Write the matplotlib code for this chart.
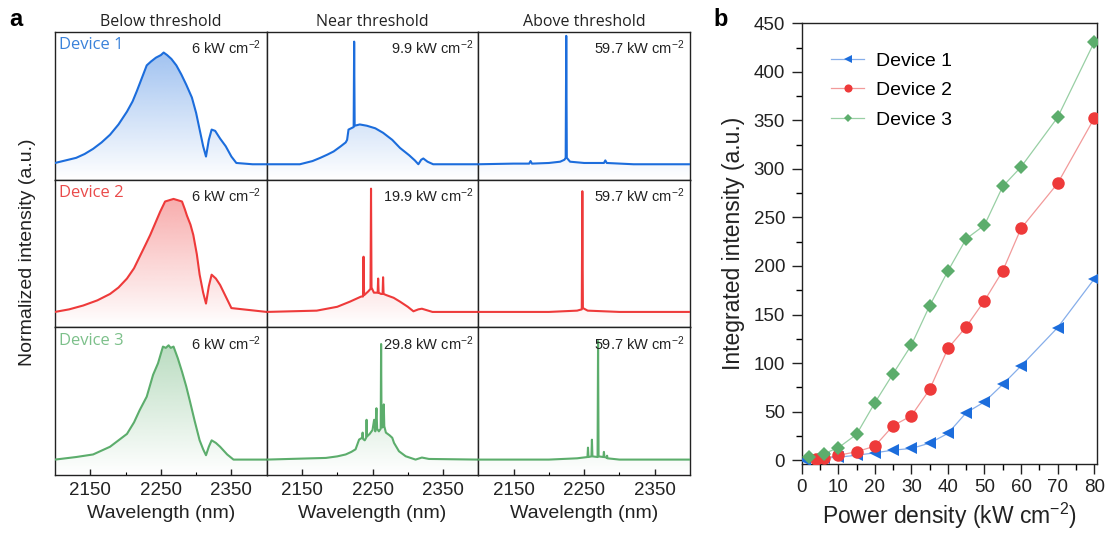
import numpy as np
import matplotlib
matplotlib.use("Agg")
import matplotlib.pyplot as plt
from matplotlib.colors import to_rgb
from matplotlib.patches import PathPatch

plt.rcParams['font.family'] = ['Liberation Sans', 'DejaVu Sans']
plt.rcParams['mathtext.fontset'] = 'custom'
plt.rcParams['mathtext.rm'] = 'Liberation Sans'
plt.rcParams['mathtext.it'] = 'Liberation Sans:italic'
plt.rcParams['mathtext.bf'] = 'Liberation Sans:bold'

# ---------------- Panel a data (wavelength nm, normalized intensity) ----------------
columns = ["Below threshold", "Near threshold", "Above threshold"]
devices = ["Device 1", "Device 2", "Device 3"]
power_labels = [["6", "9.9", "59.7"],
                ["6", "19.9", "59.7"],
                ["6", "29.8", "59.7"]]

wl_d1_below = [2100, 2115, 2130, 2142, 2154, 2166, 2178, 2190, 2202, 2210, 2216, 2223, 2230, 2236, 2243, 2250, 2254, 2259, 2265, 2272, 2279, 2286, 2294, 2300, 2305, 2310, 2314, 2318, 2322, 2327, 2334, 2342, 2350, 2357, 2380, 2400]
in_d1_below = [0.01, 0.03, 0.05, 0.08, 0.12, 0.17, 0.23, 0.31, 0.41, 0.49, 0.57, 0.67, 0.77, 0.80, 0.83, 0.85, 0.87, 0.85, 0.82, 0.77, 0.70, 0.62, 0.52, 0.40, 0.27, 0.14, 0.06, 0.19, 0.27, 0.26, 0.20, 0.14, 0.06, 0.01, 0.0, 0.0]

wl_d1_near = [2100, 2147, 2165, 2176, 2186, 2195, 2205, 2212, 2214, 2216, 2223.3, 2224, 2224.7, 2232, 2242, 2254, 2265, 2278, 2289, 2302, 2310, 2315, 2319, 2322, 2328, 2336, 2400]
in_d1_near = [0.0, 0.0, 0.025, 0.05, 0.075, 0.10, 0.14, 0.17, 0.19, 0.27, 0.29, 0.955, 0.30, 0.31, 0.30, 0.28, 0.245, 0.19, 0.127, 0.07, 0.03, 0.0, 0.035, 0.045, 0.02, 0.0, 0.0]

wl_d1_above = [2100, 2150, 2172, 2174, 2176, 2200, 2216, 2222, 2223.8, 2224.6, 2225.4, 2230, 2250, 2278, 2280, 2282, 2320, 2400]
in_d1_above = [0.0, 0.005, 0.005, 0.025, 0.005, 0.01, 0.02, 0.035, 0.05, 1.0, 0.05, 0.02, 0.01, 0.01, 0.03, 0.01, 0.0, 0.0]

wl_d2_below = [2100, 2120, 2140, 2160, 2178, 2190, 2202, 2212, 2220, 2228, 2235, 2242, 2249, 2256, 2262, 2268, 2274, 2280, 2284, 2287, 2292, 2296, 2301, 2305, 2310, 2314, 2318, 2322, 2328, 2334, 2342, 2350, 2400]
in_d2_below = [0.0, 0.02, 0.05, 0.09, 0.14, 0.19, 0.26, 0.34, 0.43, 0.52, 0.60, 0.69, 0.78, 0.86, 0.87, 0.88, 0.87, 0.86, 0.80, 0.75, 0.68, 0.60, 0.45, 0.29, 0.15, 0.065, 0.20, 0.29, 0.26, 0.21, 0.12, 0.03, 0.0]

wl_d2_near = [2100, 2171, 2200, 2218, 2234, 2236.5, 2237.3, 2238.1, 2244, 2247.2, 2247.9, 2248.6, 2252, 2257.3, 2258, 2258.7, 2262, 2264.3, 2265, 2265.7, 2270, 2280, 2289, 2300, 2308, 2315, 2320, 2335, 2400]
in_d2_near = [0.0, 0.01, 0.04, 0.08, 0.12, 0.12, 0.43, 0.13, 0.16, 0.18, 0.96, 0.19, 0.15, 0.15, 0.26, 0.15, 0.14, 0.14, 0.27, 0.14, 0.13, 0.11, 0.08, 0.04, 0.005, 0.02, 0.025, 0.0, 0.0]

wl_d2_above = [2100, 2200, 2240, 2246.6, 2247.4, 2248.2, 2255, 2300, 2400]
in_d2_above = [0.0, 0.0, 0.01, 0.02, 0.94, 0.03, 0.01, 0.0, 0.0]

wl_d3_below = [2100, 2130, 2154, 2166, 2178, 2190, 2202, 2212, 2220, 2230, 2239, 2246, 2253, 2257, 2261, 2264, 2268, 2274, 2280, 2286, 2291, 2298, 2305, 2310, 2314, 2318, 2322, 2328, 2334, 2344, 2353, 2400]
in_d3_below = [0.0, 0.02, 0.04, 0.07, 0.10, 0.15, 0.20, 0.29, 0.385, 0.49, 0.66, 0.75, 0.88, 0.87, 0.89, 0.87, 0.88, 0.79, 0.685, 0.57, 0.46, 0.30, 0.15, 0.08, 0.034, 0.10, 0.15, 0.13, 0.10, 0.04, 0.0, 0.0]

wl_d3_near = [2100, 2184, 2200, 2212, 2220, 2226, 2231, 2235.3, 2236, 2236.7, 2239, 2241, 2241.6, 2242.2, 2246, 2250, 2252.3, 2254, 2255.6, 2256.6, 2259, 2261.6, 2262.2, 2262.8, 2264, 2265.3, 2266, 2266.7, 2269, 2274, 2278, 2280.5, 2287.5, 2297, 2311, 2320, 2330, 2400]
in_d3_near = [0.0, 0.013, 0.025, 0.04, 0.06, 0.08, 0.156, 0.17, 0.21, 0.16, 0.15, 0.17, 0.31, 0.18, 0.20, 0.23, 0.31, 0.22, 0.40, 0.24, 0.22, 0.24, 0.90, 0.30, 0.25, 0.26, 0.43, 0.26, 0.21, 0.19, 0.17, 0.13, 0.065, 0.026, 0.0, 0.016, 0.005, 0.0]

wl_d3_above = [2100, 2200, 2240, 2254.7, 2255.4, 2256.1, 2260.3, 2261, 2261.7, 2269, 2269.7, 2270.4, 2277.3, 2278, 2278.7, 2282, 2282.5, 2283, 2300, 2400]
in_d3_above = [0.0, 0.0, 0.01, 0.02, 0.093, 0.02, 0.025, 0.155, 0.025, 0.02, 0.923, 0.025, 0.02, 0.06, 0.02, 0.015, 0.03, 0.01, 0.0, 0.0]

spectra = [[(wl_d1_below, in_d1_below), (wl_d1_near, in_d1_near), (wl_d1_above, in_d1_above)],
           [(wl_d2_below, in_d2_below), (wl_d2_near, in_d2_near), (wl_d2_above, in_d2_above)],
           [(wl_d3_below, in_d3_below), (wl_d3_near, in_d3_near), (wl_d3_above, in_d3_above)]]

wl_ticks = [2150, 2250, 2350]

# ---------------- Panel b data ----------------
power_d1 = [1, 3, 6, 10, 15, 20, 25, 30, 35, 40, 45, 50, 55, 60, 70, 80]
integ_d1 = [0.5, 1, 2, 3, 5, 7.5, 10.3, 12, 17.5, 27.5, 48.8, 60, 78, 97, 136.5, 186.5]
power_d2 = [4, 6, 10, 15, 20, 25, 30, 35, 40, 45, 50, 55, 60, 70, 80]
integ_d2 = [0.7, 1.7, 5, 8.6, 14.4, 35.4, 45.7, 72.8, 115, 137.4, 164.2, 195, 238.7, 285, 352]
power_d3 = [2, 6, 10, 15, 20, 25, 30, 35, 40, 45, 50, 55, 60, 70, 80]
integ_d3 = [3, 6.5, 12.7, 26.5, 59, 89, 118.5, 159, 194.8, 228, 242, 282, 302, 353, 430.4]

# ---------------- Styling ----------------
line_colors = ['#1c6ddc', '#ee3a3a', '#5cad6c']
label_colors = ['#3a82da', '#ea4a4a', '#7cc08a']
light_colors = ['#86aeea', '#f29a9a', '#98cfa4']
markers = ['<', 'o', 'D']
msizes = [9, 9, 7]

W, H = 1107, 534
fig = plt.figure(figsize=(W / 100, H / 100), dpi=100)

YLO, YHI = -0.12, 1.03
gs = fig.add_gridspec(3, 3, left=55 / W, right=690 / W, top=1 - 32 / H, bottom=1 - 475 / H,
                      wspace=0, hspace=0)


def grad_fill(ax, x, y, color):
    poly = ax.fill_between(x, y, YLO, facecolor='none', edgecolor='none', lw=0)
    path = poly.get_paths()[0]
    rgb = to_rgb(color)
    n = 256
    arr = np.zeros((n, 1, 4))
    arr[:, 0, :3] = rgb
    arr[:, 0, 3] = np.linspace(0.48, 0.0, n)
    im = ax.imshow(arr, aspect='auto', extent=[2100, 2400, YLO, YHI], origin='upper',
                   zorder=1, interpolation='bilinear')
    patch = PathPatch(path, transform=ax.transData, facecolor='none', edgecolor='none')
    ax.add_patch(patch)
    im.set_clip_path(patch)


for r in range(3):
    for c in range(3):
        ax = fig.add_subplot(gs[r, c])
        x, y = spectra[r][c]
        grad_fill(ax, x, y, line_colors[r])
        ax.plot(x, y, color=line_colors[r], lw=1.5, zorder=3)
        ax.set_xlim(2100, 2400)
        ax.set_ylim(YLO, YHI)
        ax.set_yticks([])
        for s in ax.spines.values():
            s.set_linewidth(1.0)
            s.set_color('#222222')
        if r == 2:
            ax.set_xticks(wl_ticks)
            ax.set_xticks([2200, 2300], minor=True)
            ax.tick_params(axis='x', which='major', direction='in', length=4, width=1,
                           labelsize=13.5, pad=5, colors='#222222')
            ax.tick_params(axis='x', which='minor', direction='in', length=2.5, width=0.8)
            ax.set_xlabel("Wavelength (nm)", fontsize=14, labelpad=4, color='#222222')
        else:
            ax.set_xticks([])
        ax.text(0.975, 0.955, power_labels[r][c] + r' kW cm$^{-2}$', transform=ax.transAxes,
                ha='right', va='top', fontsize=10.5, color='#222222')
        if c == 0:
            ax.text(0.02, 0.965, devices[r], transform=ax.transAxes, ha='left', va='top',
                    fontsize=12, color=label_colors[r], family=['Open Sans', 'DejaVu Sans'])
        if r == 0:
            ax.set_title(columns[c], fontsize=11.5, pad=4, color='#222222',
                         family=['Open Sans', 'DejaVu Sans'])

fig.text(28 / W, 1 - 252 / H, "Normalized intensity (a.u.)", rotation=90, ha='center', va='center',
         fontsize=14, color='#222222')
fig.text(16 / W, 1 - 20 / H, "a", ha='center', va='center', fontsize=17, fontweight='bold')
fig.text(721 / W, 1 - 20 / H, "b", ha='center', va='center', fontsize=17, fontweight='bold')

# ---------------- Panel b ----------------
axb = fig.add_axes([801.7 / W, 1 - 464 / H, (1096.7 - 801.7) / W, (464 - 23.3) / H])
series = [(power_d1, integ_d1), (power_d2, integ_d2), (power_d3, integ_d3)]
for i, (px, py) in enumerate(series):
    axb.plot(px, py, color=light_colors[i], lw=0.9, zorder=2)
    axb.plot(px, py, linestyle='none', marker=markers[i], ms=msizes[i], color=line_colors[i],
             markeredgewidth=0, zorder=3)
# legend handles
handles = []
for i in range(3):
    h, = axb.plot([], [], color=light_colors[i], lw=0.9, marker=markers[i], ms=msizes[i] * 0.65,
                  markerfacecolor=line_colors[i], markeredgewidth=0)
    handles.append(h)
axb.legend(handles, devices, loc='upper left', bbox_to_anchor=(0.1, 0.935), frameon=False,
           fontsize=14, handlelength=1.7, handletextpad=0.6, labelspacing=0.62, borderpad=0,
           borderaxespad=0)
axb.set_xlim(0, 80.7)
axb.set_ylim(-4, 450)
axb.set_xticks(range(0, 81, 10))
axb.set_xticks(range(5, 81, 10), minor=True)
axb.set_yticks(range(0, 451, 50))
axb.set_yticks(range(25, 451, 50), minor=True)
axb.tick_params(axis='both', which='major', direction='out', length=7, width=1, labelsize=13.5,
                colors='#222222')
axb.tick_params(axis='both', which='minor', direction='out', length=4, width=1)
axb.tick_params(axis='x', pad=4)
axb.tick_params(axis='y', pad=5)
for s in axb.spines.values():
    s.set_linewidth(1.0)
    s.set_color('#222222')
axb.set_xlabel(r"Power density (kW cm$^{-2}$)", fontsize=16.5, labelpad=3, color='#222222')
axb.set_ylabel("Integrated intensity (a.u.)", fontsize=16.5, labelpad=6, color='#222222')

fig.savefig("out.png", dpi=100)
